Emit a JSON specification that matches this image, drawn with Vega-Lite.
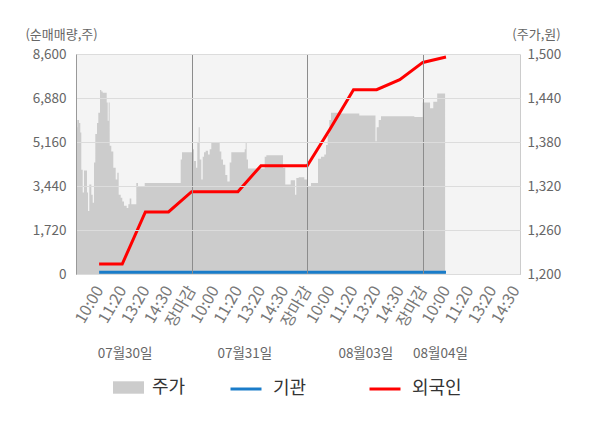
{
  "$schema": "https://vega.github.io/schema/vega-lite/v6.json",
  "width": 444,
  "height": 220,
  "autosize": {"type": "none"},
  "padding": {"left": 76, "top": 54, "right": 80, "bottom": 154},
  "background": "#ffffff",
  "config": {
    "font": "Noto Sans CJK KR",
    "view": {"fill": "#f4f4f4", "stroke": null}
  },
  "datasets": {
    "price": [
      {"t": 0, "p": 1400}, {"t": 0.056, "p": 1410}, {"t": 0.13, "p": 1406}, {"t": 0.186, "p": 1393},
      {"t": 0.229, "p": 1342}, {"t": 0.29, "p": 1311}, {"t": 0.346, "p": 1341}, {"t": 0.476, "p": 1311},
      {"t": 0.519, "p": 1286}, {"t": 0.575, "p": 1322}, {"t": 0.662, "p": 1308}, {"t": 0.722, "p": 1297},
      {"t": 0.778, "p": 1352}, {"t": 0.835, "p": 1391}, {"t": 0.908, "p": 1406}, {"t": 0.964, "p": 1420},
      {"t": 1.038, "p": 1451}, {"t": 1.094, "p": 1449}, {"t": 1.155, "p": 1447}, {"t": 1.328, "p": 1434},
      {"t": 1.371, "p": 1409}, {"t": 1.414, "p": 1434}, {"t": 1.457, "p": 1375}, {"t": 1.526, "p": 1367},
      {"t": 1.613, "p": 1345}, {"t": 1.717, "p": 1329}, {"t": 1.786, "p": 1338}, {"t": 1.846, "p": 1308},
      {"t": 1.933, "p": 1304}, {"t": 2.002, "p": 1299}, {"t": 2.076, "p": 1293}, {"t": 2.192, "p": 1290},
      {"t": 2.262, "p": 1295}, {"t": 2.322, "p": 1303}, {"t": 2.391, "p": 1295}, {"t": 2.608, "p": 1324},
      {"t": 2.681, "p": 1320}, {"t": 2.971, "p": 1324}, {"t": 4.528, "p": 1356}, {"t": 4.584, "p": 1366},
      {"t": 5.016, "p": 1370}, {"t": 5.103, "p": 1354}, {"t": 5.189, "p": 1345}, {"t": 5.245, "p": 1379},
      {"t": 5.306, "p": 1400}, {"t": 5.349, "p": 1356}, {"t": 5.418, "p": 1329}, {"t": 5.479, "p": 1360},
      {"t": 5.535, "p": 1366}, {"t": 5.608, "p": 1368}, {"t": 5.708, "p": 1363}, {"t": 5.782, "p": 1370},
      {"t": 5.851, "p": 1379}, {"t": 6.214, "p": 1367}, {"t": 6.283, "p": 1356}, {"t": 6.357, "p": 1349},
      {"t": 6.456, "p": 1335}, {"t": 6.543, "p": 1326}, {"t": 6.646, "p": 1352}, {"t": 6.716, "p": 1366},
      {"t": 7.295, "p": 1370}, {"t": 7.338, "p": 1379}, {"t": 7.381, "p": 1356}, {"t": 7.438, "p": 1344},
      {"t": 8.16, "p": 1360}, {"t": 8.23, "p": 1362}, {"t": 8.95, "p": 1345}, {"t": 9.05, "p": 1322},
      {"t": 9.284, "p": 1328}, {"t": 9.47, "p": 1308}, {"t": 9.527, "p": 1331}, {"t": 9.63, "p": 1332},
      {"t": 9.873, "p": 1329}, {"t": 9.99, "p": 1320}, {"t": 10.162, "p": 1324}, {"t": 10.465, "p": 1357},
      {"t": 10.595, "p": 1360}, {"t": 10.737, "p": 1363}, {"t": 10.81, "p": 1376}, {"t": 10.884, "p": 1390},
      {"t": 10.954, "p": 1410}, {"t": 11.027, "p": 1420}, {"t": 11.386, "p": 1419}, {"t": 12.25, "p": 1416},
      {"t": 12.95, "p": 1381}, {"t": 13.0, "p": 1400}, {"t": 13.09, "p": 1410}, {"t": 13.19, "p": 1415},
      {"t": 14.63, "p": 1414}, {"t": 14.99, "p": 1434}, {"t": 15.31, "p": 1426}, {"t": 15.45, "p": 1435},
      {"t": 15.62, "p": 1446}, {"t": 15.96, "p": 1446}
    ],
    "flow": [
      {"t": 1, "s": "외국인", "v": 391}, {"t": 2, "s": "외국인", "v": 391}, {"t": 3, "s": "외국인", "v": 2424},
      {"t": 4, "s": "외국인", "v": 2424}, {"t": 5, "s": "외국인", "v": 3217}, {"t": 6, "s": "외국인", "v": 3217},
      {"t": 7, "s": "외국인", "v": 3217}, {"t": 8, "s": "외국인", "v": 4233}, {"t": 9, "s": "외국인", "v": 4233},
      {"t": 10, "s": "외국인", "v": 4233}, {"t": 11, "s": "외국인", "v": 5690}, {"t": 12, "s": "외국인", "v": 7204},
      {"t": 13, "s": "외국인", "v": 7204}, {"t": 14, "s": "외국인", "v": 7595}, {"t": 15, "s": "외국인", "v": 8271},
      {"t": 16, "s": "외국인", "v": 8483},
      {"t": 1, "s": "기관", "v": 70}, {"t": 2, "s": "기관", "v": 70}, {"t": 3, "s": "기관", "v": 70},
      {"t": 4, "s": "기관", "v": 70}, {"t": 5, "s": "기관", "v": 70}, {"t": 6, "s": "기관", "v": 70},
      {"t": 7, "s": "기관", "v": 70}, {"t": 8, "s": "기관", "v": 70}, {"t": 9, "s": "기관", "v": 70},
      {"t": 10, "s": "기관", "v": 70}, {"t": 11, "s": "기관", "v": 70}, {"t": 12, "s": "기관", "v": 70},
      {"t": 13, "s": "기관", "v": 70}, {"t": 14, "s": "기관", "v": 70}, {"t": 15, "s": "기관", "v": 70},
      {"t": 16, "s": "기관", "v": 70}
    ]
  },
  "resolve": {"scale": {"y": "independent"}, "axis": {"x": "independent"}},
  "layer": [
    {
      "data": {"name": "price"},
      "mark": {"type": "area", "interpolate": "step-after", "opacity": 1},
      "encoding": {
        "x": {
          "field": "t", "type": "quantitative",
          "scale": {"domain": [0, 19.2], "nice": false, "zero": false},
          "axis": {
            "orient": "bottom",
            "title": null,
            "values": [2.1, 5, 7.28, 10, 12.51, 15, 15.74],
            "labelExpr": "datum.value % 5 === 0 ? '' : datum.value < 5 ? '07월30일' : datum.value < 10 ? '07월31일' : datum.value < 15 ? '08월03일' : '08월04일'",
            "labelAngle": 0, "labelAlign": "center", "labelBaseline": "middle",
            "labelPadding": 79, "ticks": false, "tickSize": 0, "domain": false,
            "labelFontSize": 13.5, "labelColor": "#666666",
            "labelOverlap": false, "labelFlush": false, "labelBound": false,
            "grid": true, "gridColor": "#8c8c8c", "gridWidth": 1,
            "gridOpacity": {"condition": {"test": "datum.value % 5 === 0", "value": 1}, "value": 0},
            "zindex": 1
          }
        },
        "y": {
          "field": "p", "type": "quantitative",
          "scale": {"domain": [1200, 1500], "nice": false, "zero": false},
          "axis": {
            "orient": "right",
            "values": [1200, 1260, 1320, 1380, 1440, 1500],
            "format": ",.0f",
            "grid": false, "ticks": false, "tickSize": 0,
            "domainColor": "#cccccc",
            "labelPadding": 7, "labelFontSize": 13.5, "labelColor": "#666666",
            "title": "(주가,원)", "titleAngle": 0, "titleX": 16, "titleY": -20,
            "titleAlign": "center", "titleBaseline": "middle",
            "titleFontSize": 13, "titleFontWeight": "normal", "titleColor": "#666666"
          }
        },
        "y2": {"datum": 1200},
        "fill": {
          "datum": "주가", "type": "nominal",
          "scale": {"domain": ["주가"], "range": ["#cccccc"]},
          "legend": {
            "orient": "none", "legendX": 37, "legendY": 318,
            "direction": "horizontal", "title": null, "padding": 0,
            "symbolSize": 961, "symbolType": "M-1,-0.4H1V0.4H-1Z",
            "symbolStrokeWidth": 0, "symbolFillColor": "#cccccc", "symbolOpacity": 1,
            "labelFontSize": 18, "labelColor": "#333333", "labelOffset": 8
          }
        }
      }
    },
    {
      "data": {"name": "flow"},
      "mark": {"type": "line", "strokeWidth": 3, "interpolate": "linear"},
      "encoding": {
        "x": {
          "field": "t", "type": "quantitative",
          "scale": {"domain": [0, 19.2], "nice": false, "zero": false},
          "axis": {
            "orient": "bottom",
            "title": null,
            "values": [1, 2, 3, 4, 5, 6, 7, 8, 9, 10, 11, 12, 13, 14, 15, 16, 17, 18, 19],
            "labelExpr": "['10:00','11:20','13:20','14:30','장마감'][(datum.value - 1) % 5]",
            "labelAngle": -60, "labelAlign": "right", "labelBaseline": "top",
            "labelPadding": 9, "labelOffset": -7, "ticks": false, "tickSize": 0,
            "domain": true, "domainColor": "#888888",
            "labelFontSize": 16, "labelColor": "#777777",
            "labelOverlap": false, "labelFlush": false, "labelBound": false,
            "grid": false,
            "encode": {"labels": {"update": {"fill": {"signal": "datum.value % 5 === 0 ? '#ff0000' : (datum.value === 16 ? '#222222' : '#777777')"}}}}
          }
        },
        "y": {
          "field": "v", "type": "quantitative",
          "scale": {"domain": [0, 8600], "nice": false, "zero": false},
          "axis": {
            "orient": "left",
            "values": [0, 1720, 3440, 5160, 6880, 8600],
            "format": ",.0f",
            "grid": true, "gridColor": "#dcdcdc",
            "ticks": false, "tickSize": 0,
            "domainColor": "#999999",
            "labelPadding": 10, "labelFontSize": 13.5, "labelColor": "#666666",
            "title": "(순매매량,주)", "titleAngle": 0, "titleX": -15, "titleY": -20,
            "titleAlign": "center", "titleBaseline": "middle",
            "titleFontSize": 13, "titleFontWeight": "normal", "titleColor": "#666666",
            "zindex": 1
          }
        },
        "stroke": {
          "field": "s", "type": "nominal",
          "scale": {"domain": ["기관", "외국인"], "range": ["#1a7cc9", "#ff0000"]},
          "legend": {
            "orient": "none", "legendX": 153, "legendY": 318,
            "direction": "horizontal", "title": null, "padding": 0,
            "symbolSize": 961, "symbolType": "stroke", "symbolStrokeWidth": 3, "symbolOpacity": 1,
            "labelFontSize": 18, "labelColor": "#333333",
            "labelOffset": 10, "columnPadding": 56
          }
        }
      }
    }
  ]
}
